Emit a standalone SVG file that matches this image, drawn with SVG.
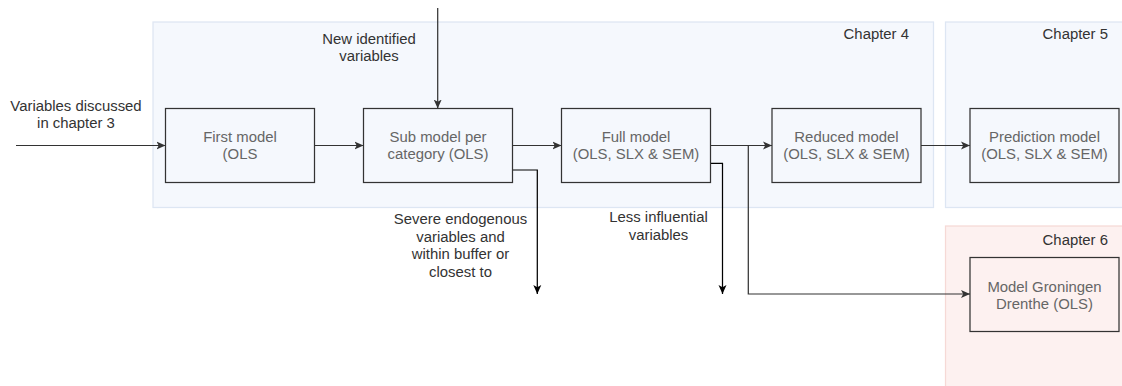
<svg xmlns="http://www.w3.org/2000/svg" width="1122" height="386" viewBox="0 0 1122 386">
<style>
text{font-family:"Liberation Sans",Arial,sans-serif;font-size:14.9px;text-anchor:middle}
.box{fill:none;stroke:#333333;stroke-width:1.24}
.btxt{fill:#666666}
.lbl{fill:#333333}
.ch{fill:#333333;text-anchor:end}
.c4{fill:#f5f8fd;stroke:#dde6f3;stroke-width:1.24}
.c6{fill:#fdf1f0;stroke:#f6d9d6;stroke-width:1.24}
.e{fill:none;stroke:#333333;stroke-width:1.24}
.k{fill:none;stroke:#000000;stroke-width:1.24}
</style>
<defs>
<marker id="ag" markerWidth="10" markerHeight="10" refX="9" refY="5" orient="auto" markerUnits="userSpaceOnUse"><path d="M0,1 L9,5 L0,9 L2.2,5 Z" fill="#333333"/></marker>
<marker id="ak" markerWidth="10" markerHeight="10" refX="9" refY="5" orient="auto" markerUnits="userSpaceOnUse"><path d="M0,1 L9,5 L0,9 L2.2,5 Z" fill="#000000"/></marker>
</defs>
<rect width="1122" height="386" fill="#ffffff"/>
<g id="chapter4"><rect class="c4" x="153" y="22" width="780.5" height="185.5"/><text class="ch" x="909" y="39">Chapter 4</text></g>
<g id="chapter5"><rect class="c4" x="945.5" y="22" width="186" height="185.5"/><text class="ch" x="1108" y="39">Chapter 5</text></g>
<g id="chapter6"><rect class="c6" x="945.5" y="226" width="186" height="170"/><text class="ch" x="1108" y="245">Chapter 6</text></g>
<g id="connectors">
<path class="e" d="M16,145.5 H165.5" marker-end="url(#ag)"/>
<path class="e" d="M314.5,145.5 H363.5" marker-end="url(#ag)"/>
<path class="e" d="M512.5,145.5 H561.5" marker-end="url(#ag)"/>
<path class="e" d="M710.5,145.5 H772" marker-end="url(#ag)"/>
<path class="e" d="M921,145.5 H970" marker-end="url(#ag)"/>
<path class="e" d="M437.7,8 V108.5" marker-end="url(#ag)"/>
<path class="k" d="M512.5,170 H537.3 V294" marker-end="url(#ak)"/>
<path class="k" d="M710.5,163.3 H722.5 V294" marker-end="url(#ak)"/>
<path class="e" d="M748.3,145.5 V294 H970" marker-end="url(#ag)"/>
</g>
<g id="label-input"><text class="lbl" x="76" y="111">Variables discussed</text><text class="lbl" x="76" y="128">in chapter 3</text></g>
<g id="label-new"><text class="lbl" x="369" y="44">New identified</text><text class="lbl" x="369" y="61">variables</text></g>
<g id="label-severe"><text class="lbl" x="460.5" y="224">Severe endogenous</text><text class="lbl" x="460.5" y="242">variables and</text><text class="lbl" x="460.5" y="259">within buffer or</text><text class="lbl" x="460.5" y="277">closest to</text></g>
<g id="label-less"><text class="lbl" x="658.5" y="222">Less influential</text><text class="lbl" x="658.5" y="240">variables</text></g>
<g id="first-model"><rect class="box" x="165.5" y="108.5" width="149" height="74"/><text class="btxt" x="240" y="142">First model</text><text class="btxt" x="240" y="159">(OLS</text></g>
<g id="sub-model"><rect class="box" x="363.5" y="108.5" width="149" height="74"/><text class="btxt" x="438" y="142">Sub model per</text><text class="btxt" x="438" y="159">category (OLS)</text></g>
<g id="full-model"><rect class="box" x="561.5" y="108.5" width="149" height="74"/><text class="btxt" x="636" y="142">Full model</text><text class="btxt" x="636" y="159">(OLS, SLX &amp; SEM)</text></g>
<g id="reduced-model"><rect class="box" x="772" y="108.5" width="149" height="74"/><text class="btxt" x="846.5" y="142">Reduced model</text><text class="btxt" x="846.5" y="159">(OLS, SLX &amp; SEM)</text></g>
<g id="prediction-model"><rect class="box" x="970" y="108.5" width="149" height="74"/><text class="btxt" x="1044.5" y="142">Prediction model</text><text class="btxt" x="1044.5" y="159">(OLS, SLX &amp; SEM)</text></g>
<g id="groningen-model"><rect class="box" x="970" y="257.5" width="149" height="74"/><text class="btxt" x="1044.5" y="292">Model Groningen</text><text class="btxt" x="1044.5" y="309">Drenthe (OLS)</text></g>
</svg>
